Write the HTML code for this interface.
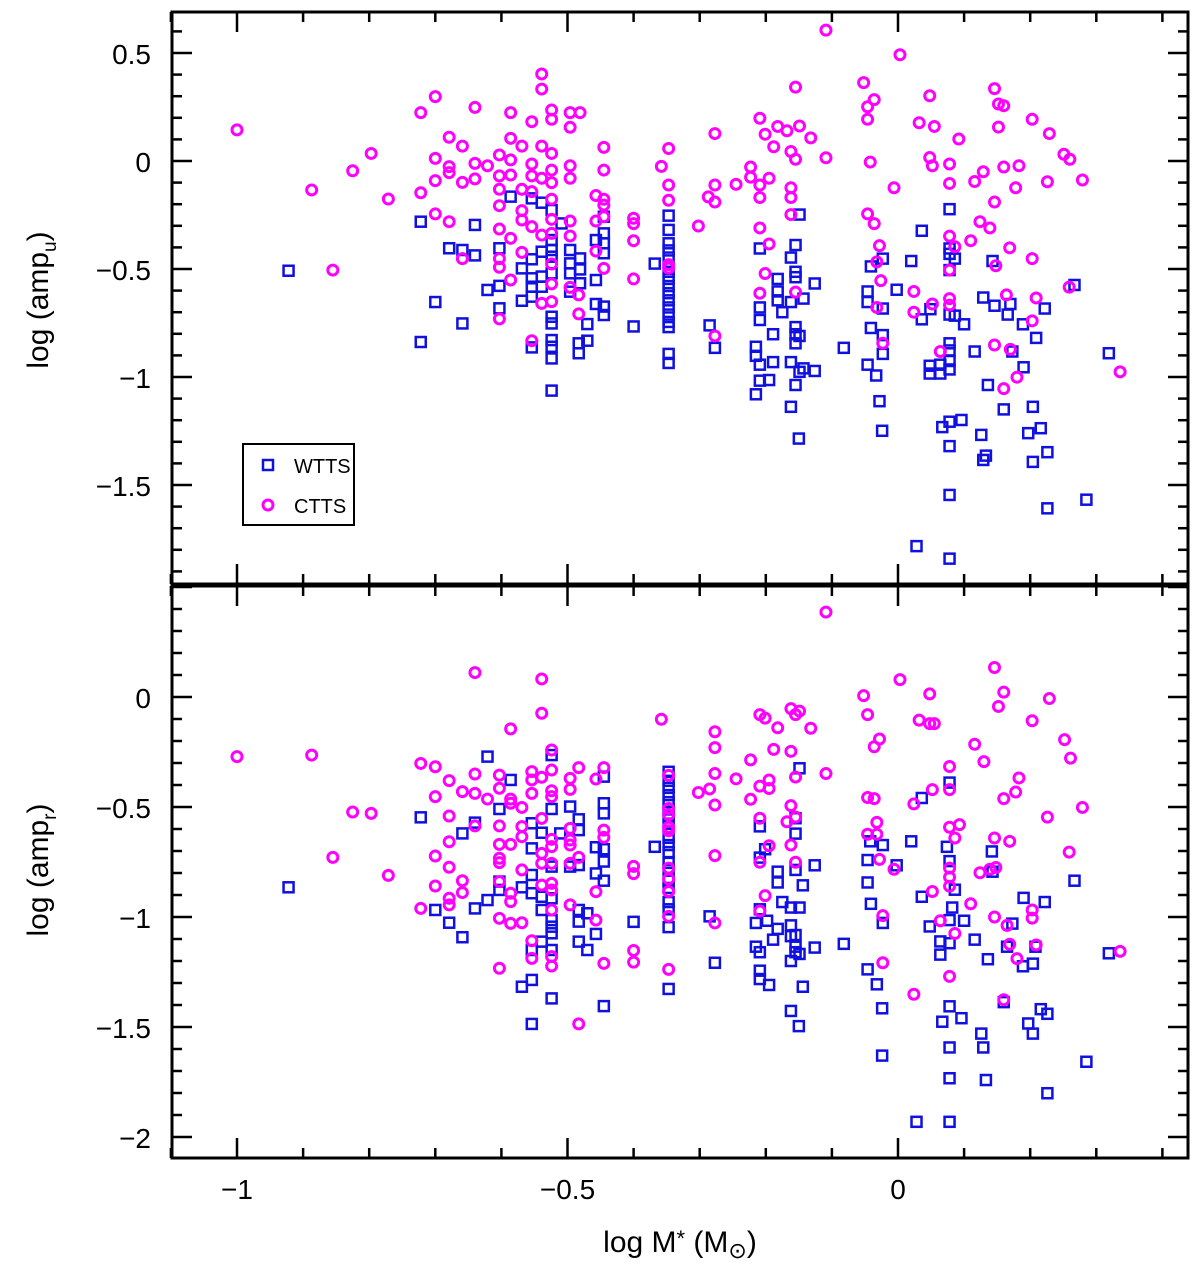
<!DOCTYPE html>
<html><head><meta charset="utf-8"><style>
html,body{margin:0;padding:0;background:#fff;}
svg{display:block;font-family:"Liberation Sans",sans-serif;}
</style></head><body>
<svg id="chart" width="1200" height="1271" viewBox="0 0 1200 1271" xmlns="http://www.w3.org/2000/svg">
<g id="axes"></g>
<g id="marks"></g>
<g>
<rect x="243" y="444" width="111" height="81" fill="#fff" stroke="#000" stroke-width="2"/>
<rect x="263" y="460" width="10" height="10" fill="none" stroke="#1010e0" stroke-width="2.5"/>
<text x="294" y="473" font-size="20">WTTS</text>
<circle cx="268" cy="505" r="5" fill="none" stroke="#ff00ff" stroke-width="3"/>
<text x="294" y="513" font-size="20">CTTS</text>
</g>
<text transform="translate(48,300) rotate(-90)" text-anchor="middle" font-size="30">log (amp<tspan font-size="19" dy="8">u</tspan><tspan dy="-8">)</tspan></text>
<text transform="translate(48,870) rotate(-90)" text-anchor="middle" font-size="30">log (amp<tspan font-size="19" dy="8">r</tspan><tspan dy="-8">)</tspan></text>
<text x="680" y="1252" text-anchor="middle" font-size="30">log M<tspan font-size="22" dy="-6">*</tspan><tspan dy="6"> (M</tspan><tspan font-size="22" dy="6">⊙</tspan><tspan dy="-6">)</tspan></text>
</svg>
<script>
const xTicksMajor=[-1,-0.5,0];
const xTickLabels=["−1","−0.5","0"];
const topYTicks=[0.5,0,-0.5,-1,-1.5];
const topYLabels=["0.5","0","−0.5","−1","−1.5"];
const botYTicks=[0,-0.5,-1,-1.5,-2];
const botYLabels=["0","−0.5","−1","−1.5","−2"];

const topWtts=[[-0.922,-0.508],[-0.722,-0.281],[-0.722,-0.838],[-0.700,-0.653],[-0.679,-0.404],[-0.659,-0.412],[-0.640,-0.296],[-0.640,-0.437],[-0.659,-0.752],[-0.621,-0.597],[-0.603,-0.404],[-0.603,-0.578],[-0.603,-0.682],[-0.586,-0.165],[-0.569,-0.497],[-0.569,-0.647],[-0.554,-0.173],[-0.554,-0.455],[-0.554,-0.543],[-0.554,-0.582],[-0.554,-0.628],[-0.554,-0.863],[-0.539,-0.193],[-0.539,-0.420],[-0.539,-0.535],[-0.539,-0.582],[-0.524,-0.227],[-0.524,-0.366],[-0.524,-0.412],[-0.524,-0.443],[-0.524,-0.520],[-0.524,-0.721],[-0.524,-0.752],[-0.524,-0.829],[-0.524,-0.860],[-0.524,-0.914],[-0.524,-1.063],[-0.509,-0.289],[-0.496,-0.412],[-0.496,-0.474],[-0.496,-0.520],[-0.496,-0.605],[-0.481,-0.451],[-0.481,-0.502],[-0.481,-0.566],[-0.483,-0.844],[-0.483,-0.890],[-0.470,-0.755],[-0.470,-0.832],[-0.457,-0.366],[-0.457,-0.551],[-0.457,-0.662],[-0.445,-0.258],[-0.445,-0.335],[-0.445,-0.381],[-0.445,-0.427],[-0.445,-0.674],[-0.445,-0.713],
[-0.400,-0.766],[-0.368,-0.475],[-0.347,-0.253],[-0.347,-0.319],[-0.347,-0.381],[-0.347,-0.414],[-0.347,-0.447],[-0.347,-0.513],[-0.347,-0.546],[-0.347,-0.579],[-0.347,-0.612],[-0.347,-0.645],[-0.347,-0.678],[-0.347,-0.711],[-0.347,-0.745],[-0.347,-0.769],[-0.347,-0.893],[-0.347,-0.935],[-0.285,-0.761],[-0.277,-0.865],[-0.215,-0.860],[-0.215,-0.902],[-0.215,-1.080],[-0.209,-0.405],[-0.209,-0.678],[-0.209,-0.736],[-0.209,-0.943],[-0.209,-1.017],[-0.195,-1.014],[-0.189,-0.802],[-0.189,-0.931],[-0.182,-0.546],[-0.182,-0.604],[-0.182,-0.645],[-0.175,-0.700],[-0.162,-0.447],[-0.162,-0.653],[-0.162,-0.931],[-0.162,-1.138],[-0.155,-0.389],[-0.155,-0.513],[-0.155,-0.538],[-0.155,-0.769],[-0.155,-0.802],[-0.155,-0.844],[-0.149,-0.248],[-0.149,-0.810],[-0.149,-0.976],[-0.143,-0.637],[-0.143,-0.960],[-0.155,-1.037],[-0.150,-1.285],[-0.126,-0.567],[-0.126,-0.972],[-0.082,-0.865],[-0.046,-0.604],[-0.046,-0.653],[-0.046,-0.943],[-0.041,-0.488],[-0.041,-0.773],[-0.033,-0.993],[-0.028,-1.112],[-0.024,-1.249],[-0.023,-0.452],[-0.023,-0.683],[-0.023,-0.806],[-0.023,-0.893],[-0.002,-0.596],[0.020,-0.463],[0.028,-1.783],[0.036,-0.323],[0.036,-0.733],[0.048,-0.948],[0.048,-0.984],[0.049,-0.686],[0.064,-0.943],[0.064,-0.984],[0.067,-1.232],[0.078,-0.223],[0.078,-0.405],[0.078,-0.430],[0.078,-0.505],[0.078,-0.711],[0.078,-0.844],[0.078,-0.877],[0.078,-0.926],[0.078,-0.965],[0.078,-1.207],[0.078,-1.320],[0.078,-1.546],[0.078,-1.841],[0.086,-0.452],[0.086,-0.716],[0.096,-1.199],[0.100,-0.756],[0.116,-0.882],[0.126,-1.268],[0.129,-1.384],[0.133,-1.364],[0.129,-0.632],[0.136,-1.037],[0.143,-0.463],[0.146,-0.670],[0.160,-1.150],[0.166,-0.711],[0.170,-0.662],[0.173,-0.882],[0.189,-0.756],[0.190,-0.955],[0.197,-1.260],[0.204,-1.138],[0.204,-1.393],[0.209,-0.819],[0.216,-1.237],[0.222,-0.683],[0.226,-1.348],[0.226,-1.608],[0.267,-0.574],[0.285,-1.568],[0.319,-0.890]];

const topCtts=[[-1.000,0.144],[-0.887,-0.134],[-0.825,-0.045],[-0.797,0.035],[-0.771,-0.176],[-0.855,-0.505],[-0.722,0.224],[-0.700,0.298],[-0.640,0.248],[-0.722,-0.147],[-0.700,0.012],[-0.700,-0.091],[-0.700,-0.245],[-0.679,0.110],[-0.679,-0.026],[-0.679,-0.054],[-0.679,-0.281],[-0.659,0.069],[-0.659,-0.099],[-0.640,-0.011],[-0.640,-0.083],[-0.659,-0.452],[-0.621,-0.022],[-0.603,0.028],[-0.603,-0.069],[-0.603,-0.131],[-0.603,-0.207],[-0.603,-0.315],[-0.603,-0.452],[-0.603,-0.492],[-0.603,-0.731],[-0.586,0.224],[-0.586,0.105],[-0.586,0.005],[-0.586,-0.065],[-0.586,-0.358],[-0.586,-0.551],[-0.569,0.069],[-0.569,-0.131],[-0.569,-0.230],[-0.569,-0.273],[-0.569,-0.423],[-0.554,0.182],[-0.554,-0.014],[-0.554,-0.069],[-0.554,-0.142],[-0.554,-0.304],[-0.554,-0.832],[-0.539,0.403],[-0.539,0.333],[-0.539,0.069],[-0.539,-0.080],[-0.539,-0.343],[-0.539,-0.659],[-0.524,0.236],[-0.524,0.193],[-0.524,0.035],[-0.524,-0.042],[-0.524,-0.100],[-0.524,-0.177],[-0.524,-0.270],[-0.524,-0.335],[-0.524,-0.477],[-0.524,-0.569],[-0.524,-0.651],[-0.496,0.224],[-0.496,0.156],[-0.496,-0.022],[-0.496,-0.080],[-0.496,-0.278],[-0.496,-0.347],[-0.496,-0.585],[-0.481,0.224],[-0.483,-0.620],[-0.483,-0.708],[-0.457,-0.160],[-0.457,-0.278],[-0.457,-0.417],[-0.445,0.063],[-0.445,-0.042],[-0.445,-0.177],[-0.445,-0.204],[-0.445,-0.258],[-0.445,-0.497],
[-0.400,-0.265],[-0.400,-0.290],[-0.400,-0.369],[-0.400,-0.546],[-0.358,-0.025],[-0.347,0.058],[-0.347,-0.111],[-0.347,-0.182],[-0.347,-0.480],[-0.347,-0.496],[-0.302,-0.301],[-0.287,-0.166],[-0.277,0.127],[-0.277,-0.111],[-0.277,-0.190],[-0.277,-0.810],[-0.245,-0.108],[-0.223,-0.028],[-0.223,-0.075],[-0.209,0.198],[-0.209,-0.111],[-0.209,-0.169],[-0.209,-0.310],[-0.209,-0.612],[-0.201,0.124],[-0.201,-0.521],[-0.195,-0.080],[-0.195,-0.384],[-0.188,0.066],[-0.182,0.160],[-0.168,0.140],[-0.162,0.044],[-0.162,-0.124],[-0.162,-0.169],[-0.162,-0.248],[-0.155,0.342],[-0.155,0.008],[-0.155,-0.607],[-0.149,0.162],[-0.132,0.107],[-0.109,0.606],[-0.109,0.015],[-0.052,0.363],[-0.046,0.251],[-0.046,0.193],[-0.036,0.284],[-0.042,-0.005],[-0.046,-0.245],[-0.036,-0.290],[-0.028,-0.392],[-0.032,-0.467],[-0.026,-0.554],[-0.032,-0.678],[-0.023,-0.844],[-0.006,-0.124],[0.003,0.492],[0.024,-0.604],[0.024,-0.700],[0.032,0.177],[0.048,0.302],[0.048,0.016],[0.052,-0.022],[0.055,0.160],[0.052,-0.662],[0.064,-0.882],[0.078,-0.014],[0.078,-0.104],[0.078,-0.348],[0.086,-0.397],[0.078,-0.505],[0.078,-0.637],[0.078,-0.667],[0.092,0.102],[0.110,-0.369],[0.116,-0.095],[0.129,-0.050],[0.124,-0.281],[0.139,-0.310],[0.146,0.335],[0.146,-0.190],[0.152,0.264],[0.160,0.256],[0.152,0.157],[0.160,-0.028],[0.178,-0.124],[0.183,-0.022],[0.148,-0.485],[0.146,-0.852],[0.160,-1.054],[0.164,-0.620],[0.169,-0.402],[0.170,-0.872],[0.180,-1.001],[0.203,0.193],[0.203,-0.452],[0.209,-0.634],[0.203,-0.740],[0.226,-0.096],[0.229,0.127],[0.251,0.031],[0.260,0.008],[0.259,-0.584],[0.279,-0.088],[0.336,-0.976]];

const botWtts=[[-0.922,-0.865],[-0.722,-0.547],[-0.700,-0.968],[-0.679,-1.026],[-0.659,-0.620],[-0.659,-1.092],[-0.640,-0.571],[-0.640,-0.961],[-0.621,-0.271],[-0.621,-0.923],[-0.603,-0.509],[-0.603,-0.839],[-0.603,-0.877],[-0.586,-0.377],[-0.569,-0.865],[-0.569,-1.317],[-0.554,-0.574],[-0.554,-0.688],[-0.554,-0.809],[-0.554,-0.892],[-0.554,-1.150],[-0.554,-1.286],[-0.554,-1.486],[-0.539,-0.617],[-0.539,-0.908],[-0.539,-0.968],[-0.539,-1.112],[-0.524,-0.264],[-0.524,-0.509],[-0.524,-0.771],[-0.524,-0.915],[-0.524,-1.014],[-0.524,-1.044],[-0.524,-1.074],[-0.524,-1.150],[-0.524,-1.370],[-0.511,-0.620],[-0.496,-0.498],[-0.496,-0.771],[-0.483,-0.556],[-0.483,-0.605],[-0.483,-0.764],[-0.483,-0.968],[-0.483,-1.021],[-0.483,-1.112],[-0.470,-0.983],[-0.470,-1.150],[-0.457,-0.683],[-0.457,-0.802],[-0.457,-1.077],[-0.445,-0.362],[-0.445,-0.483],[-0.445,-0.529],[-0.445,-0.692],[-0.445,-0.748],[-0.445,-0.835],[-0.445,-1.405],
[-0.400,-1.022],[-0.368,-0.681],[-0.347,-0.340],[-0.347,-0.381],[-0.347,-0.413],[-0.347,-0.446],[-0.347,-0.478],[-0.347,-0.511],[-0.347,-0.543],[-0.347,-0.576],[-0.347,-0.640],[-0.347,-0.673],[-0.347,-0.705],[-0.347,-0.754],[-0.347,-0.786],[-0.347,-0.835],[-0.347,-0.868],[-0.347,-0.932],[-0.347,-0.965],[-0.347,-1.046],[-0.347,-1.327],[-0.285,-0.997],[-0.277,-1.208],[-0.215,-1.027],[-0.215,-1.135],[-0.209,-0.588],[-0.209,-0.730],[-0.209,-0.965],[-0.209,-1.160],[-0.209,-1.244],[-0.209,-1.282],[-0.201,-0.692],[-0.198,-1.017],[-0.195,-1.309],[-0.189,-1.103],[-0.182,-0.794],[-0.182,-0.843],[-0.182,-1.054],[-0.175,-0.932],[-0.162,-0.957],[-0.162,-1.038],[-0.162,-1.087],[-0.162,-1.200],[-0.162,-1.427],[-0.155,-0.551],[-0.155,-0.621],[-0.155,-0.786],[-0.155,-1.082],[-0.155,-1.135],[-0.155,-1.160],[-0.149,-0.324],[-0.149,-0.957],[-0.149,-1.168],[-0.150,-1.496],[-0.144,-0.856],[-0.144,-1.317],[-0.126,-0.765],[-0.126,-1.139],[-0.082,-1.122],[-0.046,-0.741],[-0.046,-0.843],[-0.046,-1.238],[-0.041,-0.940],[-0.042,-0.656],[-0.032,-1.306],[-0.024,-1.415],[-0.024,-1.630],[-0.023,-0.673],[-0.023,-1.027],[-0.002,-0.765],[0.020,-0.656],[0.028,-1.931],[0.036,-0.459],[0.036,-0.908],[0.048,-1.043],[0.064,-1.111],[0.064,-1.171],[0.067,-1.476],[0.078,-0.389],[0.074,-0.681],[0.078,-0.746],[0.086,-0.876],[0.082,-0.957],[0.078,-1.014],[0.078,-1.119],[0.078,-1.406],[0.078,-1.593],[0.078,-1.733],[0.078,-1.931],[0.096,-1.460],[0.100,-1.017],[0.116,-1.103],[0.126,-1.530],[0.129,-1.593],[0.133,-1.741],[0.136,-1.192],[0.142,-0.702],[0.143,-0.794],[0.165,-1.135],[0.160,-1.387],[0.173,-1.030],[0.190,-0.913],[0.189,-1.224],[0.197,-1.484],[0.204,-1.212],[0.204,-1.530],[0.208,-1.135],[0.216,-1.419],[0.222,-0.932],[0.226,-1.440],[0.226,-1.801],[0.267,-0.835],[0.285,-1.658],[0.319,-1.165]];

const botCtts=[[-1.000,-0.271],[-0.887,-0.264],[-0.825,-0.523],[-0.797,-0.529],[-0.855,-0.729],[-0.771,-0.811],[-0.722,-0.302],[-0.700,-0.317],[-0.700,-0.453],[-0.679,-0.380],[-0.679,-0.541],[-0.679,-0.658],[-0.679,-0.774],[-0.700,-0.723],[-0.700,-0.859],[-0.722,-0.961],[-0.679,-0.915],[-0.679,-0.945],[-0.659,-0.430],[-0.659,-0.835],[-0.659,-0.889],[-0.640,0.111],[-0.640,-0.350],[-0.640,-0.438],[-0.640,-0.586],[-0.621,-0.464],[-0.603,-0.355],[-0.603,-0.415],[-0.603,-0.586],[-0.603,-0.670],[-0.603,-0.733],[-0.603,-0.753],[-0.603,-0.839],[-0.603,-1.006],[-0.603,-1.233],[-0.586,-0.145],[-0.586,-0.464],[-0.586,-0.483],[-0.586,-0.670],[-0.586,-0.892],[-0.586,-0.930],[-0.586,-1.029],[-0.569,-0.502],[-0.569,-0.589],[-0.569,-0.635],[-0.569,-0.786],[-0.569,-1.026],[-0.554,-0.339],[-0.554,-0.377],[-0.554,-0.438],[-0.554,-1.108],[-0.554,-1.188],[-0.539,0.082],[-0.539,-0.074],[-0.539,-0.365],[-0.539,-0.552],[-0.539,-0.711],[-0.539,-0.756],[-0.539,-0.855],[-0.524,-0.241],[-0.524,-0.332],[-0.524,-0.426],[-0.524,-0.453],[-0.524,-0.647],[-0.524,-0.680],[-0.524,-0.756],[-0.524,-0.847],[-0.524,-0.877],[-0.524,-0.968],[-0.524,-1.180],[-0.524,-1.223],[-0.496,-0.370],[-0.496,-0.420],[-0.496,-0.597],[-0.496,-0.650],[-0.496,-0.673],[-0.496,-0.756],[-0.496,-0.945],[-0.483,-0.321],[-0.483,-0.729],[-0.483,-1.486],[-0.457,-0.373],[-0.457,-0.885],[-0.457,-1.014],[-0.445,-0.321],[-0.445,-0.605],[-0.445,-0.638],[-0.445,-1.211],
[-0.400,-0.770],[-0.400,-0.803],[-0.400,-1.152],[-0.400,-1.205],[-0.358,-0.101],[-0.347,-0.356],[-0.347,-0.507],[-0.347,-0.535],[-0.347,-0.592],[-0.347,-0.608],[-0.347,-0.778],[-0.347,-0.827],[-0.347,-0.884],[-0.347,-0.997],[-0.347,-1.238],[-0.302,-0.434],[-0.285,-0.418],[-0.277,-0.158],[-0.277,-0.230],[-0.277,-0.348],[-0.277,-0.491],[-0.277,-0.721],[-0.277,-1.027],[-0.245,-0.372],[-0.223,-0.286],[-0.223,-0.465],[-0.209,-0.080],[-0.201,-0.096],[-0.209,-0.405],[-0.209,-0.551],[-0.209,-0.751],[-0.209,-0.973],[-0.201,-0.903],[-0.195,-0.377],[-0.195,-0.416],[-0.195,-0.676],[-0.188,-0.238],[-0.182,-0.140],[-0.168,-0.567],[-0.162,-0.053],[-0.162,-0.247],[-0.162,-0.494],[-0.162,-0.673],[-0.155,-0.080],[-0.149,-0.064],[-0.155,-0.364],[-0.155,-0.546],[-0.155,-0.751],[-0.132,-0.142],[-0.109,0.386],[-0.109,-0.348],[-0.052,0.006],[-0.046,-0.080],[-0.046,-0.457],[-0.036,-0.462],[-0.036,-0.226],[-0.028,-0.191],[-0.032,-0.570],[-0.046,-0.624],[-0.032,-0.624],[-0.028,-0.738],[-0.023,-0.994],[-0.023,-1.208],[-0.006,-0.783],[0.003,0.079],[0.024,-0.486],[0.024,-1.351],[0.032,-0.105],[0.048,0.014],[0.048,-0.121],[0.055,-0.121],[0.052,-0.421],[0.052,-0.884],[0.064,-1.017],[0.078,-0.316],[0.078,-0.421],[0.078,-0.592],[0.086,-0.641],[0.093,-0.580],[0.078,-0.778],[0.078,-0.819],[0.078,-0.860],[0.086,-1.075],[0.078,-1.270],[0.110,-0.940],[0.116,-0.215],[0.130,-0.294],[0.124,-0.799],[0.139,-0.783],[0.148,-0.775],[0.146,0.134],[0.152,-0.043],[0.160,0.022],[0.146,-0.641],[0.146,-1.000],[0.165,-1.038],[0.169,-0.656],[0.169,-1.124],[0.160,-0.462],[0.178,-0.432],[0.183,-0.368],[0.180,-1.189],[0.160,-1.376],[0.203,-0.108],[0.203,-0.968],[0.203,-1.005],[0.209,-1.127],[0.226,-0.546],[0.229,-0.007],[0.252,-0.194],[0.261,-0.278],[0.259,-0.705],[0.279,-0.502],[0.336,-1.156]];

const NS='http://www.w3.org/2000/svg';
const X0=172,X1=1188;
const panels=[{top:12,bot:584,y0:161,k:216,lo:-1.95,hi:0.69,ticks:topYTicks,labels:topYLabels,name:'top'},
              {top:586,bot:1158,y0:697,k:220,lo:-2.09,hi:0.5,ticks:botYTicks,labels:botYLabels,name:'bottom'}];
function xs(v){return 898+v*661;}
function ysF(p){return v=>p.y0-v*p.k;}
const axes=document.getElementById('axes');
const marks=document.getElementById('marks');
function mk(tag,attrs,parent){const e=document.createElementNS(NS,tag);for(const a in attrs)e.setAttribute(a,attrs[a]);parent.appendChild(e);return e;}
function ln(x1,y1,x2,y2,parent){return mk('line',{x1:x1,y1:y1,x2:x2,y2:y2,stroke:'#000','stroke-width':2.5},parent);}

panels.forEach((p,pi)=>{
  const ys=ysF(p);
  const frame=mk('rect',{x:X0,y:p.top,width:X1-X0,height:p.bot-p.top,fill:'none',stroke:'#000','stroke-width':3},axes);
  
  
  for(let i=-11;i<=4;i++){
    const v=i/10, x=xs(v), major=(i%5===0);
    const L=major?20:10;
    const t1=ln(x,p.top,x,p.top+L,axes);
    
    
    const t2=ln(x,p.bot,x,p.bot-L,axes);
    
    
  }
  for(let i=-21;i<=7;i++){
    const v=i/10; if(v<p.lo||v>p.hi) continue;
    const y=ys(v), major=(i%5===0);
    const L=major?20:10;
    const t1=ln(X0,y,X0+L,y,axes);
    
    
    const t2=ln(X1,y,X1-L,y,axes);
    
    
  }
  p.ticks.forEach((v,i)=>{
    const t=mk('text',{x:151,y:ys(v)+11,'text-anchor':'end','font-size':28},axes);
    t.textContent=p.labels[i];
    
    
  });
});
xTicksMajor.forEach((v,i)=>{
  const t=mk('text',{x:xs(v),y:1199,'text-anchor':'middle','font-size':28},axes);
  t.textContent=xTickLabels[i];
  
  
});

function drawSquares(data,p,name){
  const ys=ysF(p);
  data.forEach(d=>{
    const r=mk('rect',{x:xs(d[0])-5,y:ys(d[1])-5,width:10,height:10,fill:'none',stroke:'#1010e0','stroke-width':2.5},marks);
    
    
  });
}
function drawCircles(data,p,name){
  const ys=ysF(p);
  data.forEach(d=>{
    const c=mk('circle',{cx:xs(d[0]),cy:ys(d[1]),r:5,fill:'none',stroke:'#ff00ff','stroke-width':3},marks);
    
    
  });
}
drawSquares(topWtts,panels[0],'wtts-point-u');
drawCircles(topCtts,panels[0],'ctts-point-u');
drawSquares(botWtts,panels[1],'wtts-point-r');
drawCircles(botCtts,panels[1],'ctts-point-r');
</script>
</body></html>
